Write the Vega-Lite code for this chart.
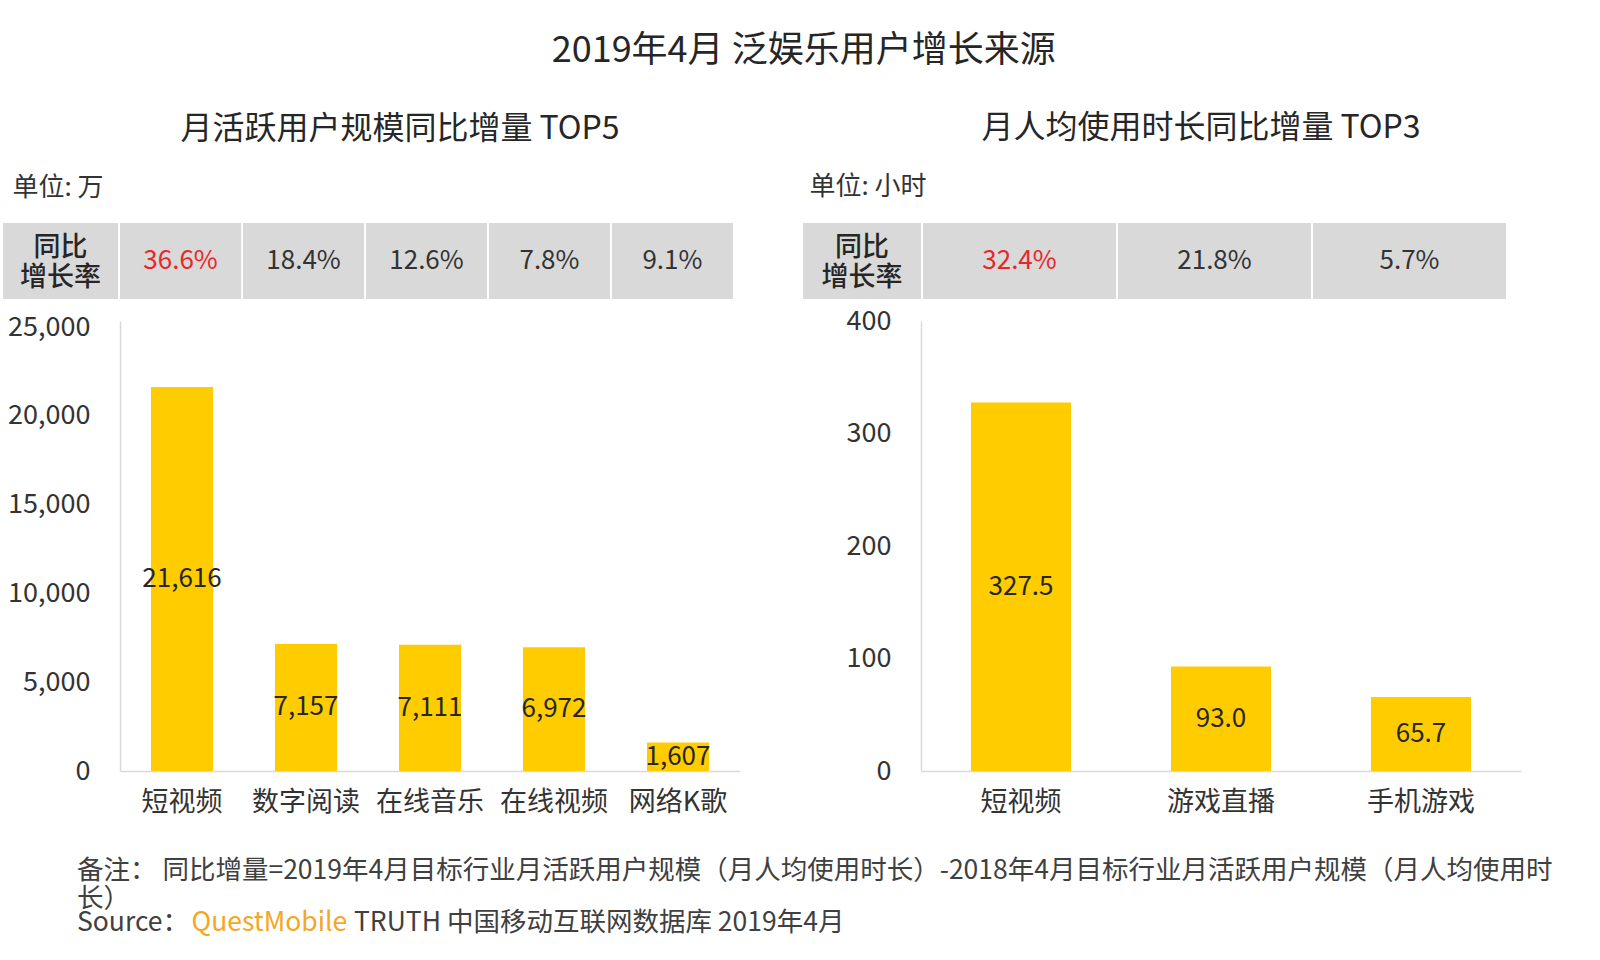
{
  "$schema": "https://vega.github.io/schema/vega-lite/v6.json",
  "background": "white",
  "padding": {"left": 3, "top": 33, "right": 0, "bottom": 0},
  "title": {"text": "2019年4月 泛娱乐用户增长来源", "fontSize": 36, "fontWeight": "normal", "color": "#262626", "anchor": "middle", "offset": 42, "dx": 23},
  "datasets": {
    "left": [
      {"cat": "短视频", "value": 21616, "rate": "36.6%", "rank": 1},
      {"cat": "数字阅读", "value": 7157, "rate": "18.4%", "rank": 2},
      {"cat": "在线音乐", "value": 7111, "rate": "12.6%", "rank": 3},
      {"cat": "在线视频", "value": 6972, "rate": "7.8%", "rank": 4},
      {"cat": "网络K歌", "value": 1607, "rate": "9.1%", "rank": 5}
    ],
    "right": [
      {"cat": "短视频", "value": 327.5, "rate": "32.4%", "rank": 1},
      {"cat": "游戏直播", "value": 93.0, "rate": "21.8%", "rank": 2},
      {"cat": "手机游戏", "value": 65.7, "rate": "5.7%", "rank": 3}
    ],
    "rowlabel": [{"lab": "同比\n增长率"}],
    "notes": [
      {"line": "1", "seg": "a", "text": "备注：  同比增量=2019年4月目标行业月活跃用户规模（月人均使用时长）-2018年4月目标行业月活跃用户规模（月人均使用时\n长）"},
      {"line": "3", "seg": "a", "text": "Source："},
      {"line": "3", "seg": "b", "text": "QuestMobile"},
      {"line": "3", "seg": "c", "text": "TRUTH 中国移动互联网数据库 2019年4月"}
    ]
  },
  "vconcat": [
    {
      "hconcat": [
        {
          "width": 620,
          "height": 450,
          "title": {"text": "月活跃用户规模同比增量 TOP5", "fontSize": 32, "fontWeight": "normal", "color": "#262626", "anchor": "middle", "frame": "group", "dx": -30, "offset": 28},
          "resolve": {"scale": {"x": "independent", "y": "independent"}},
          "layer": [
            {
              "data": {"name": "left"},
              "mark": {"type": "bar", "color": "#FFCC00"},
              "encoding": {
                "x": {"field": "cat", "type": "nominal", "sort": null, "scale": {"paddingInner": 0.5, "paddingOuter": 0.25},
                  "axis": {"title": null, "labelAngle": 0, "labelFontSize": 27, "labelColor": "#333333", "ticks": false, "domainColor": "#D9D9D9", "domainWidth": 1.5, "labelPadding": 18}},
                "y": {"field": "value", "type": "quantitative", "scale": {"domain": [0, 25338], "nice": false},
                  "axis": {"values": [0, 5000, 10000, 15000, 20000, 25000], "format": ",d", "grid": false, "ticks": false, "domainColor": "#D9D9D9", "domainWidth": 1.5, "labelPadding": 30, "labelFontSize": 27, "labelColor": "#333333",
                    "title": "单位: 万", "titleAngle": 0, "titleAlign": "left", "titleBaseline": "middle", "titleX": -108, "titleY": -134, "titleFontSize": 26, "titleFontWeight": "normal", "titleColor": "#333333"}}
              }
            },
            {
              "data": {"name": "left"},
              "mark": {"type": "text", "fontSize": 26, "color": "#262626", "baseline": "middle"},
              "encoding": {
                "x": {"field": "cat", "type": "nominal", "sort": null, "scale": {"paddingInner": 0.5, "paddingOuter": 0.25}, "axis": null},
                "y": {"field": "value", "type": "quantitative", "scale": {"domain": [0, 50676], "nice": false}, "axis": null},
                "text": {"field": "value", "type": "quantitative", "format": ",d"}
              }
            },
            {
              "data": {"name": "left"},
              "layer": [
                {"mark": {"type": "rect", "color": "#D9D9D9"}},
                {"mark": {"type": "text", "fontSize": 26, "baseline": "middle"},
                  "encoding": {
                    "text": {"field": "rate"},
                    "color": {"condition": {"test": "datum.rank === 1", "value": "#E8262B"}, "value": "#333333"}
                  }}
              ],
              "encoding": {
                "x": {"field": "cat", "type": "nominal", "sort": null, "scale": {"range": [0, 613], "paddingInner": 0.015, "paddingOuter": 0}, "axis": null},
                "y": {"datum": "h", "type": "nominal", "scale": {"range": [-98, -22], "paddingInner": 0, "paddingOuter": 0}, "axis": null}
              }
            },
            {
              "data": {"name": "rowlabel"},
              "layer": [
                {"mark": {"type": "rect", "color": "#D9D9D9"}},
                {"mark": {"type": "text", "fontSize": 27, "baseline": "middle", "lineBreak": "\n", "lineHeight": 30, "dy": -13, "color": "#262626", "fontWeight": 500},
                  "encoding": {"text": {"field": "lab"}}}
              ],
              "encoding": {
                "x": {"field": "lab", "type": "nominal", "scale": {"range": [-117, -2], "paddingInner": 0, "paddingOuter": 0}, "axis": null},
                "y": {"datum": "h", "type": "nominal", "scale": {"range": [-98, -22], "paddingInner": 0, "paddingOuter": 0}, "axis": null}
              }
            }
          ]
        },
        {
          "width": 600,
          "height": 450,
          "title": {"text": "月人均使用时长同比增量 TOP3", "fontSize": 32, "fontWeight": "normal", "color": "#262626", "anchor": "middle", "frame": "group", "dx": -20, "offset": 28},
          "resolve": {"scale": {"x": "independent", "y": "independent"}},
          "layer": [
            {
              "data": {"name": "right"},
              "mark": {"type": "bar", "color": "#FFCC00"},
              "encoding": {
                "x": {"field": "cat", "type": "nominal", "sort": null, "scale": {"paddingInner": 0.5, "paddingOuter": 0.25},
                  "axis": {"title": null, "labelAngle": 0, "labelFontSize": 27, "labelColor": "#333333", "ticks": false, "domainColor": "#D9D9D9", "domainWidth": 1.5, "labelPadding": 18}},
                "y": {"field": "value", "type": "quantitative", "scale": {"domain": [0, 400], "nice": false},
                  "axis": {"values": [0, 100, 200, 300, 400], "format": "d", "grid": false, "ticks": false, "domainColor": "#D9D9D9", "domainWidth": 1.5, "labelPadding": 30, "labelFontSize": 27, "labelColor": "#333333",
                    "title": "单位: 小时", "titleAngle": 0, "titleAlign": "left", "titleBaseline": "middle", "titleX": -112, "titleY": -135, "titleFontSize": 26, "titleFontWeight": "normal", "titleColor": "#333333"}}
              }
            },
            {
              "data": {"name": "right"},
              "mark": {"type": "text", "fontSize": 26, "color": "#262626", "baseline": "middle"},
              "encoding": {
                "x": {"field": "cat", "type": "nominal", "sort": null, "scale": {"paddingInner": 0.5, "paddingOuter": 0.25}, "axis": null},
                "y": {"field": "value", "type": "quantitative", "scale": {"domain": [0, 800], "nice": false}, "axis": null},
                "text": {"field": "value", "type": "quantitative", "format": ".1f"}
              }
            },
            {
              "data": {"name": "right"},
              "layer": [
                {"mark": {"type": "rect", "color": "#D9D9D9"}},
                {"mark": {"type": "text", "fontSize": 26, "baseline": "middle"},
                  "encoding": {
                    "text": {"field": "rate"},
                    "color": {"condition": {"test": "datum.rank === 1", "value": "#E8262B"}, "value": "#333333"}
                  }}
              ],
              "encoding": {
                "x": {"field": "cat", "type": "nominal", "sort": null, "scale": {"range": [2, 585], "paddingInner": 0.01, "paddingOuter": 0}, "axis": null},
                "y": {"datum": "h", "type": "nominal", "scale": {"range": [-98, -22], "paddingInner": 0, "paddingOuter": 0}, "axis": null}
              }
            },
            {
              "data": {"name": "rowlabel"},
              "layer": [
                {"mark": {"type": "rect", "color": "#D9D9D9"}},
                {"mark": {"type": "text", "fontSize": 27, "baseline": "middle", "lineBreak": "\n", "lineHeight": 30, "dy": -13, "color": "#262626", "fontWeight": 500},
                  "encoding": {"text": {"field": "lab"}}}
              ],
              "encoding": {
                "x": {"field": "lab", "type": "nominal", "scale": {"range": [-118, 0], "paddingInner": 0, "paddingOuter": 0}, "axis": null},
                "y": {"datum": "h", "type": "nominal", "scale": {"range": [-98, -22], "paddingInner": 0, "paddingOuter": 0}, "axis": null}
              }
            }
          ]
        }
      ],
      "spacing": 63
    },
    {
      "width": 1300,
      "height": 70,
      "data": {"name": "notes"},
      "layer": [
        {
          "transform": [{"filter": "datum.seg !== 'b'"}],
          "mark": {"type": "text", "fontSize": 26.5, "align": "left", "baseline": "alphabetic", "lineBreak": "\n", "lineHeight": 28, "color": "#404040"},
          "encoding": {
            "x": {"field": "seg", "type": "nominal", "scale": {"type": "point", "domain": ["a", "b", "c"], "range": [-43, 234], "padding": 0}, "axis": null},
            "y": {"field": "line", "type": "nominal", "scale": {"type": "point", "domain": ["1", "3"], "range": [18, 70], "padding": 0}, "axis": null},
            "text": {"field": "text"}
          }
        },
        {
          "transform": [{"filter": "datum.seg === 'b'"}],
          "mark": {"type": "text", "fontSize": 26.5, "align": "left", "baseline": "alphabetic", "color": "#F5A623", "dx": -24},
          "encoding": {
            "x": {"field": "seg", "type": "nominal", "scale": {"type": "point", "domain": ["a", "b", "c"], "range": [-43, 234], "padding": 0}, "axis": null},
            "y": {"field": "line", "type": "nominal", "scale": {"type": "point", "domain": ["1", "3"], "range": [18, 70], "padding": 0}, "axis": null},
            "text": {"field": "text"}
          }
        }
      ]
    }
  ],
  "spacing": 43,
  "config": {
    "font": "Noto Sans CJK SC",
    "view": {"stroke": null}
  }
}
